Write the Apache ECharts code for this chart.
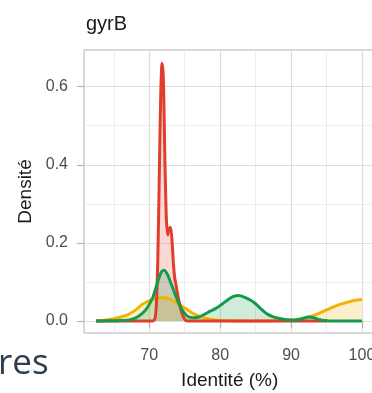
<!DOCTYPE html>
<html>
<head>
<meta charset="utf-8">
<script src="https://cdn.jsdelivr.net/npm/echarts@6/dist/echarts.min.js"></script>
<style>
  html, body { margin: 0; padding: 0; background: #fff; }
  #chart { width: 372px; height: 393px; }
</style>
</head>
<body>
<div id="chart"></div>
<script>
// Density of identity (%) for gyrB, three groups
const xTicks = [70, 80, 90, 100];
const xMinor = [65, 75, 85, 95];
const yTicks = [0, 0.2, 0.4, 0.6];
const yMinor = [0.1, 0.3, 0.5];

const yellowX = [62.5, 63.5, 64.5, 66, 67, 68, 69, 70, 71, 72, 73, 74, 75, 76, 77, 78, 79, 80, 82, 87, 89, 90.5, 92, 93, 94, 95, 96, 97, 98, 99, 100];
const yellowY = [0, 0.001, 0.004, 0.01, 0.016, 0.027, 0.042, 0.052, 0.058, 0.06, 0.055, 0.045, 0.033, 0.021, 0.012, 0.006, 0.003, 0.001, 0, 0, 0.001, 0.003, 0.008, 0.013, 0.02, 0.028, 0.036, 0.043, 0.048, 0.053, 0.055];

const redX = [62.5, 70.5, 70.8, 71.0, 71.2, 71.4, 71.6, 71.8, 72.0, 72.2, 72.4, 72.6, 72.8, 73.0, 73.2, 73.4, 73.6, 73.9, 74.2, 74.6, 75.0, 75.4, 95];
const redY = [0, 0, 0.005, 0.04, 0.15, 0.35, 0.56, 0.66, 0.62, 0.42, 0.27, 0.22, 0.235, 0.24, 0.21, 0.15, 0.11, 0.08, 0.05, 0.02, 0.004, 0, 0];

const greenX = [62.5, 66, 67.5, 68.5, 69.5, 70.5, 71.2, 71.7, 72.1, 72.6, 73.2, 73.7, 74.3, 74.8, 75.4, 76.2, 77, 77.8, 78.6, 79.4, 80.2, 81, 81.8, 82.6, 83.4, 84.2, 85, 85.8, 86.6, 87.4, 88.4, 89.5, 90.5, 91.5, 92.5, 93.2, 94, 95, 96, 100];
const greenY = [0, 0.001, 0.004, 0.012, 0.028, 0.06, 0.1, 0.125, 0.13, 0.118, 0.09, 0.066, 0.04, 0.024, 0.012, 0.008, 0.01, 0.017, 0.025, 0.032, 0.042, 0.053, 0.062, 0.065, 0.061, 0.054, 0.044, 0.03, 0.018, 0.011, 0.006, 0.003, 0.002, 0.005, 0.01, 0.008, 0.003, 0.0005, 0, 0];

const zip = (xs, ys) => xs.map((x, i) => [x, ys[i]]);

const X_MIN = 60.8, X_MAX = 101.9;
const Y_MIN = -0.031, Y_MAX = 0.694;

const font = 'Liberation Sans, Arial, sans-serif';
const borderGrey = '#b3b3b3';

function densitySeries(name, color, xs, ys) {
  return {
    name: name,
    type: 'line',
    xAxisIndex: 0,
    yAxisIndex: 0,
    data: zip(xs, ys),
    smooth: 0.25,
    symbol: 'none',
    lineStyle: { color: color, width: 3, join: 'round' },
    areaStyle: { color: color, opacity: 0.2 },
    z: 3
  };
}

const chart = echarts.init(document.getElementById('chart'), null, { renderer: 'canvas' });
chart.setOption({
  animation: false,
  backgroundColor: '#ffffff',
  title: {
    text: 'gyrB',
    left: 81,
    top: 9,
    textStyle: { fontFamily: font, fontSize: 20, fontWeight: 'normal', color: '#1a1a1a' }
  },
  grid: {
    left: 84, top: 50, width: 291.4, height: 283,
    containLabel: false, outerBoundsMode: 'none',
    show: true, borderColor: borderGrey, borderWidth: 1, backgroundColor: 'transparent'
  },
  xAxis: [
    {
      type: 'value', min: X_MIN, max: X_MAX,
      name: 'Identité (%)', nameLocation: 'middle', nameGap: 38,
      nameTextStyle: { fontFamily: font, fontSize: 19, color: '#1a1a1a' },
      axisLine: { show: false },
      axisTick: { show: true, inside: false, length: 7, customValues: xTicks, lineStyle: { color: borderGrey, width: 1.2 } },
      axisLabel: { show: true, customValues: xTicks, margin: 15, fontFamily: font, fontSize: 16, color: '#4d4d4d' },
      splitLine: { show: true, lineStyle: { color: '#dedede', width: 1.2 } },
      z: 1
    },
    {
      type: 'value', min: X_MIN, max: X_MAX, position: 'bottom',
      axisLine: { show: false },
      axisTick: { show: false, customValues: xMinor },
      axisLabel: { show: false },
      splitLine: { show: true, lineStyle: { color: '#e8e8e8', width: 0.8 } },
      z: 0
    }
  ],
  yAxis: [
    {
      type: 'value', min: Y_MIN, max: Y_MAX,
      name: 'Densité', nameLocation: 'middle', nameGap: 47, nameRotate: 90,
      nameTextStyle: { fontFamily: font, fontSize: 19, color: '#1a1a1a' },
      axisLine: { show: false },
      axisTick: { show: true, inside: false, length: 7, customValues: yTicks, lineStyle: { color: borderGrey, width: 1.2 } },
      axisLabel: { show: true, customValues: yTicks, margin: 16, fontFamily: font, fontSize: 16, color: '#4d4d4d',
        formatter: v => v.toFixed(1) },
      splitLine: { show: true, lineStyle: { color: '#dedede', width: 1.2 } },
      z: 1
    },
    {
      type: 'value', min: Y_MIN, max: Y_MAX, position: 'left',
      axisLine: { show: false },
      axisTick: { show: false, customValues: yMinor },
      axisLabel: { show: false },
      splitLine: { show: true, lineStyle: { color: '#e8e8e8', width: 0.8 } },
      z: 0
    }
  ],
  graphic: [
    {
      type: 'text', left: -2, top: 347,
      style: { text: 'res', fontFamily: 'Open Sans, sans-serif', fontSize: 35, fill: '#2c3e50' }
    }
  ],
  series: [
    densitySeries('yellow', '#f2b400', yellowX, yellowY),
    densitySeries('red', '#e03e2d', redX, redY),
    densitySeries('green', '#149a4c', greenX, greenY)
  ]
});
</script>
</body>
</html>
